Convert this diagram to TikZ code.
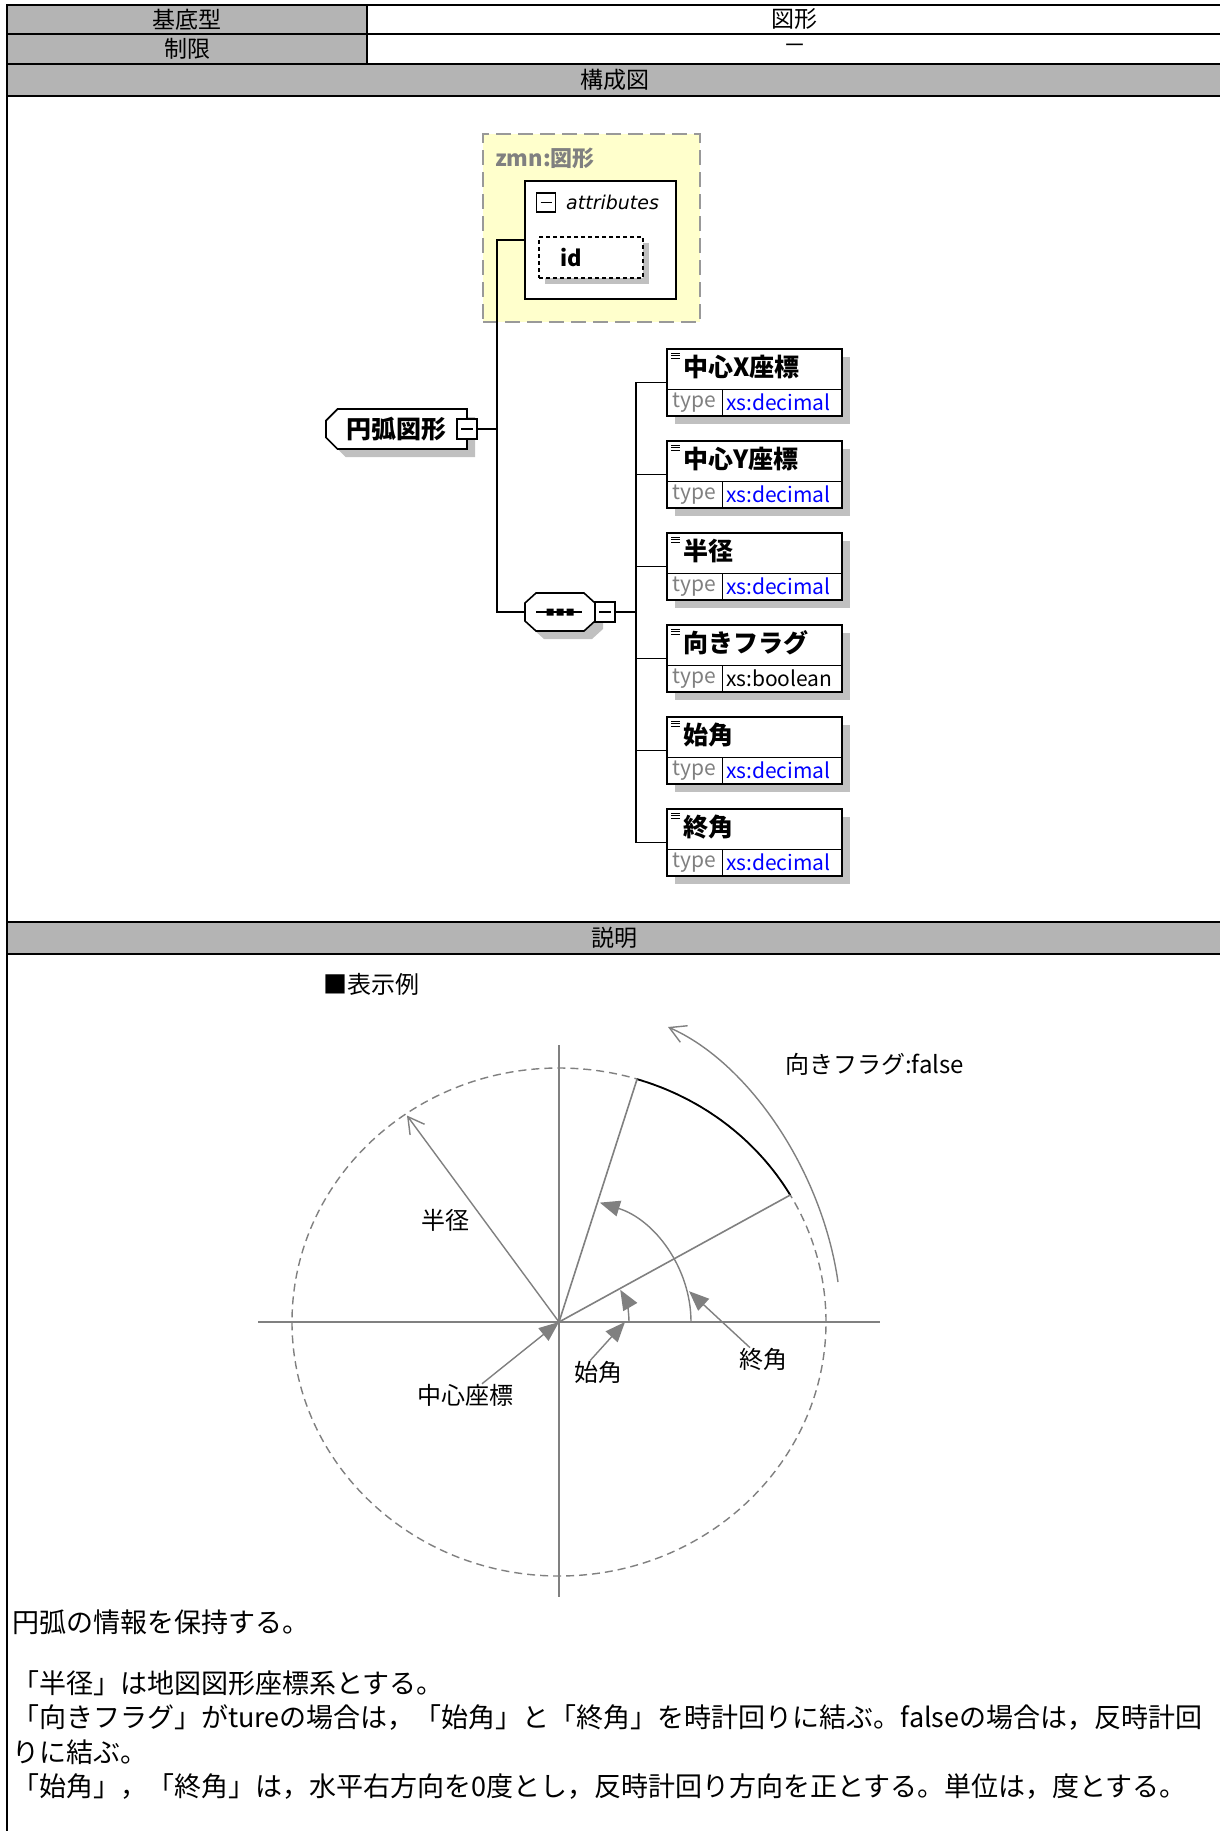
\documentclass[tikz,border=0pt]{standalone}
\usepackage{fontspec}
\setmainfont{Noto Sans CJK JP}
\newfontfamily\slantfont{DejaVu Sans}
\usetikzlibrary{positioning,arrows.meta,shapes.misc,shadows}

\definecolor{headGray}{RGB}{180,180,180}
\definecolor{lineGray}{RGB}{128,128,128}
\definecolor{shadeGray}{RGB}{192,192,192}
\definecolor{groupYellow}{RGB}{255,255,204}
\definecolor{typeBlue}{RGB}{0,0,255}

\newcommand{\jpsize}[1]{\fontsize{#1pt}{#1pt}\selectfont}
\newcommand{\seqOutline}{(-24,19) -- (24,19) -- (35,9) -- (35,-9) -- (24,-19) -- (-24,-19) -- (-35,-9) -- (-35,9) -- cycle}

\begin{document}
\begin{tikzpicture}[x=1pt, y=1pt]
\tikzset{
    headCell/.style={rectangle, draw, line width=2.4pt, fill=headGray, anchor=north west, inner sep=0pt, outer sep=0pt, font=\jpsize{23}},
    plainCell/.style={rectangle, draw, line width=2.4pt, fill=white, anchor=north west, inner sep=0pt, outer sep=0pt, font=\jpsize{23}},
    shadowed/.style={drop shadow={shadow xshift=8pt, shadow yshift=-8pt, fill=shadeGray, opacity=1}},
    minusBox/.style={rectangle, draw, line width=1.5pt, fill=white, minimum size=20pt, inner sep=0pt, outer sep=0pt,
        path picture={\draw[line width=1.5pt] ([xshift=4pt]path picture bounding box.west) -- ([xshift=-4pt]path picture bounding box.east);}},
    rootStyle/.style={chamfered rectangle, chamfered rectangle corners={north west,south west}, chamfered rectangle xsep=8pt,
        draw, line width=1.6pt, fill=white, minimum width=141pt, minimum height=40pt, inner sep=0pt, outer sep=0pt, shadowed, font=\jpsize{25}\bfseries},
    seqStyle/.style={rectangle, minimum width=70pt, minimum height=38pt, inner sep=0pt, outer sep=0pt},
    groupStyle/.style={rectangle, draw=lineGray!80, fill=groupYellow, line width=2pt, dash pattern=on 15pt off 7pt, minimum width=217pt, minimum height=188pt, outer sep=0pt},
    attrStyle/.style={rectangle, draw, fill=white, line width=1.6pt, minimum width=151pt, minimum height=118pt, outer sep=0pt},
    idStyle/.style={rectangle, draw, fill=white, line width=1.4pt, dash pattern=on 4pt off 3pt, minimum height=41pt, text width=62pt, inner xsep=21pt, align=left, outer sep=0pt,
        drop shadow={shadow xshift=6pt, shadow yshift=-6pt, fill=shadeGray, opacity=1}, font=\jpsize{22}\bfseries},
    elemStyle/.style={rectangle, draw, fill=white, line width=1.6pt, text width=143pt, inner xsep=16pt, inner ysep=5pt, text height=22pt, text depth=35pt, align=left, outer sep=0pt, shadowed, font=\jpsize{25}\bfseries,
        path picture={\draw[line width=1pt] ([shift={(4pt,-4pt)}]path picture bounding box.north west) -- ++(9,0) ++(-9,-2.5) -- ++(9,0) ++(-9,-2.5) -- ++(9,0);}},
    typeKey/.style={rectangle, draw, line width=1pt, minimum width=55pt, minimum height=27pt, inner sep=0pt, outer sep=0pt, text=lineGray, font=\jpsize{21}},
    typeVal/.style={rectangle, draw, line width=1pt, minimum height=27pt, text width=112pt, inner xsep=4pt, inner ysep=0pt, align=left, outer sep=0pt, text=typeBlue, font=\jpsize{21}},
    treeLine/.style={line width=1.6pt},
    axisLine/.style={lineGray, line width=1.6pt},
    rimLine/.style={lineGray, line width=1.4pt, dash pattern=on 8pt off 5pt},
    arcLine/.style={black, line width=1.8pt},
    openArrow/.style={lineGray, line width=1.4pt, -{Straight Barb[length=16pt, width=18pt]}},
    fillArrow/.style={lineGray, line width=1.4pt, -{Triangle[length=20pt, width=16pt]}},
    noteText/.style={inner sep=0pt, font=\jpsize{24}},
    descText/.style={anchor=west, inner sep=0pt, font=\jpsize{27}}
}
\useasboundingbox (0,0) rectangle (1220,-1831);

% table frame
\node[headCell, minimum width=360pt, minimum height=29pt] (baseKey) at (7,-5) {基底型};
\node[plainCell, minimum width=855pt, minimum height=29pt] (baseVal) at (367,-5) {図形};
\node[headCell, minimum width=360pt, minimum height=30pt] (limitKey) at (7,-34) {制限};
\node[plainCell, minimum width=855pt, minimum height=30pt] (limitVal) at (367,-34) {－};
\node[headCell, minimum width=1215pt, minimum height=32pt] (figHead) at (7,-64) {構成図};
\node[plainCell, minimum width=1215pt, minimum height=826pt] (figBody) at (7,-96) {};
\node[headCell, minimum width=1215pt, minimum height=32pt] (descHead) at (7,-922) {説明};
\node[plainCell, minimum width=1215pt, minimum height=885pt] (descBody) at (7,-954) {};

% schema tree
\node[groupStyle] (zmnBox) at (591.5,-228) {};
\node[font=\jpsize{22}\bfseries, text=lineGray, anchor=west, inner sep=0pt] (zmnTitle) at (495,-158) {zmn:図形};
\node[attrStyle] (attrBox) at (600.5,-240) {};
\node[minusBox, minimum size=19pt, line width=1.3pt] (attrMinus) at (546,-202.5) {};
\node[font=\slantfont\itshape\jpsize{19}, anchor=west, inner sep=0pt] (attrName) at (566,-202) {attributes};
\node[idStyle] (idBox) at (591,-257.5) {id};

\node[rootStyle] (root) at (396.5,-429) {円弧図形};
\node[minusBox] (rootMinus) at (root.east) {};

\node[seqStyle] (seq) at (560,-612) {};
\fill[shadeGray, shift={(568,-620)}] \seqOutline;
\draw[treeLine, fill=white, shift={(seq.center)}] \seqOutline;
\draw[line width=1.4pt] ([xshift=-24pt]seq.center) -- ([xshift=22pt]seq.center);
\fill ([xshift=-10pt]seq.center) +(-3.5,-3.5) rectangle +(3.5,3.5)
      (seq.center) +(-3.5,-3.5) rectangle +(3.5,3.5)
      ([xshift=10pt]seq.center) +(-3.5,-3.5) rectangle +(3.5,3.5);
\node[minusBox, right=0pt of seq] (seqMinus) {};

\node[elemStyle] (c1) at (754.5,-382.5) {中心X座標};
\node[typeKey, above right=0pt of c1.south west] (c1k) {type};
\node[typeVal, right=0pt of c1k] (c1v) {xs:decimal};
\node[elemStyle, below=25pt of c1] (c2) {中心Y座標};
\node[typeKey, above right=0pt of c2.south west] (c2k) {type};
\node[typeVal, right=0pt of c2k] (c2v) {xs:decimal};
\node[elemStyle, below=25pt of c2] (c3) {半径};
\node[typeKey, above right=0pt of c3.south west] (c3k) {type};
\node[typeVal, right=0pt of c3k] (c3v) {xs:decimal};
\node[elemStyle, below=25pt of c3] (c4) {向きフラグ};
\node[typeKey, above right=0pt of c4.south west] (c4k) {type};
\node[typeVal, right=0pt of c4k, text=black] (c4v) {xs:boolean};
\node[elemStyle, below=25pt of c4] (c5) {始角};
\node[typeKey, above right=0pt of c5.south west] (c5k) {type};
\node[typeVal, right=0pt of c5k] (c5v) {xs:decimal};
\node[elemStyle, below=25pt of c5] (c6) {終角};
\node[typeKey, above right=0pt of c6.south west] (c6k) {type};
\node[typeVal, right=0pt of c6k] (c6v) {xs:decimal};

\coordinate[right=20pt of rootMinus] (rootJoin);
\coordinate[right=21pt of seqMinus] (seqJoin);
\draw[treeLine] (rootMinus.east) -- (rootJoin);
\draw[treeLine] (attrBox.west) -| (rootJoin) |- (seq.west);
\draw[treeLine] (seqMinus.east) -- (seqJoin);
\draw[treeLine] (c1.west) -| (seqJoin) |- (c6.west);
\draw[treeLine] (seqJoin |- c2.west) -- (c2.west);
\draw[treeLine] (seqJoin |- c3.west) -- (c3.west);
\draw[treeLine] (seqJoin |- c4.west) -- (c4.west);
\draw[treeLine] (seqJoin |- c5.west) -- (c5.west);

% sample figure
\node[noteText, anchor=west] (lblSample) at (323,-984) {■表示例};
\coordinate (O) at (559,-1322);
\draw[axisLine] (258,-1322) -- (880,-1322);
\draw[axisLine] (559,-1045) -- (559,-1597);
\draw[rimLine] (O) ellipse [x radius=267, y radius=254];
\begin{scope}[shift={(O)}, yscale=0.951]
    \draw[arcLine] (30:267) arc[start angle=30, end angle=73, radius=267];
    \draw[axisLine] (0,0) -- (30:267);
    \draw[axisLine] (0,0) -- (73:267);
    \draw[openArrow] (0,0) -- (125:265);
    \draw[fillArrow] (0:70) arc[start angle=0, end angle=29, radius=70];
    \draw[fillArrow] (0:132) arc[start angle=0, end angle=72, radius=132];
    \coordinate (startFoot) at (0:66);
    \coordinate (endMark) at (14:134);
\end{scope}
\coordinate (flagFrom) at (838,-1282);
\coordinate (flagTo) at (668,-1027);
\draw[openArrow] (flagFrom) .. controls (822,-1170) and (748,-1062) .. (flagTo);

\node[noteText] (lblRadius) at (445,-1220) {半径};
\node[noteText] (lblCenter) at (465,-1395) {中心座標};
\node[noteText] (lblStart) at (598,-1372) {始角};
\node[noteText] (lblEnd) at (763,-1359) {終角};
\node[noteText, anchor=west] (lblFlag) at (785,-1064) {向きフラグ:false};

\draw[fillArrow] ([xshift=17pt]lblCenter.north) -- (O);
\draw[fillArrow] ([xshift=-8pt]lblStart.north) -- (startFoot);
\draw[fillArrow] ([xshift=-13pt]lblEnd.north) -- (endMark);

% description
\node[descText] (descIntro) at (12,-1622) {円弧の情報を保持する。};
\node[descText] (descRadius) at (12,-1683) {「半径」は地図図形座標系とする。};
\node[descText] (descFlag) at (12,-1718) {「向きフラグ」がtureの場合は，「始角」と「終角」を時計回りに結ぶ。falseの場合は，反時計回};
\node[descText] (descFlagTail) at (12,-1752) {りに結ぶ。};
\node[descText] (descAngle) at (12,-1787) {「始角」，「終角」は，水平右方向を0度とし，反時計回り方向を正とする。単位は，度とする。};

\end{tikzpicture}
\end{document}
